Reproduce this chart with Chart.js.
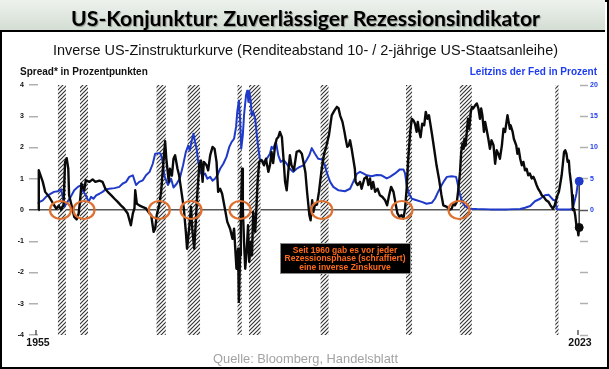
<!DOCTYPE html>
<html>
<head>
<meta charset="utf-8">
<script src="https://cdn.jsdelivr.net/npm/chart.js@4.4.0/dist/chart.umd.min.js"></script>
<style>
  html, body { margin: 0; padding: 0; width: 609px; height: 369px; overflow: hidden; background: #fff; }
  #frame { position: absolute; left: 0; top: 0; width: 605px; height: 365px; border: 2px solid #000; }
  #head { position: absolute; left: 0; top: 0; width: 605px; height: 30px;
          background: linear-gradient(#eef2ee, #d3ddd3); border-bottom: 2px solid #000; }
  #chart { position: absolute; left: 0; top: 0; }
  .txt { position: absolute; white-space: nowrap; line-height: 1; transform-origin: left top; }
  #title { top: 5px; font: bold 21px "Lato", "Open Sans", sans-serif; color: #000;
           text-shadow: 1px 1px 1px rgba(0,0,0,0.35); }
  #subtitle { top: 41px; font: 15px "Liberation Sans", Arial, sans-serif; color: #111; }
  #leftLabel { top: 66px; left: 20px; font: bold 10px "Liberation Sans", Arial, sans-serif; color: #111; }
  #rightLabel { top: 66px; font: bold 10px "Liberation Sans", Arial, sans-serif; color: #1d3cf0; }
  #source { top: 351px; font: 13px "Liberation Sans", Arial, sans-serif; color: #a3a3a3; }
</style>
</head>
<body>
<div id="frame"></div>
<div id="head"></div>
<canvas id="chart" width="609" height="369"></canvas>
<div class="txt" id="title" data-center="305" data-fit="469">US-Konjunktur: Zuverlässiger Rezessionsindikator</div>
<div class="txt" id="subtitle" data-center="305" data-fit="505">Inverse US-Zinstrukturkurve (Renditeabstand 10- / 2-jährige US-Staatsanleihe)</div>
<div class="txt" id="leftLabel">Spread* in Prozentpunkten</div>
<div class="txt" id="rightLabel" data-right="597">Leitzins der Fed in Prozent</div>
<div class="txt" id="source" data-center="305" data-fit="185">Quelle: Bloomberg, Handelsblatt</div>
<script>
// Renditeabstand 10J - 2J (linke Achse, Prozentpunkte)
var spreadYears = [1955.05,1955.1,1955.6,1955.9,1956.4,1957.0,1957.3,1957.6,1957.9,1958.2,1958.4,1958.6,1958.8,1958.9,1959.2,1959.55,1959.85,1960.1,1960.3,1960.45,1960.8,1961.0,1961.45,1961.85,1962.2,1962.7,1963.1,1963.45,1963.75,1964.2,1964.6,1965.0,1965.4,1965.8,1966.25,1966.65,1966.9,1967.1,1967.2,1967.4,1967.7,1968.1,1968.55,1969.0,1969.2,1969.5,1969.7,1969.9,1970.2,1970.45,1970.7,1970.95,1971.1,1971.4,1971.55,1971.8,1972.0,1972.2,1972.5,1972.7,1973.0,1973.3,1973.55,1973.7,1974.0,1974.2,1974.35,1974.6,1974.8,1975.0,1975.25,1975.45,1975.65,1975.8,1976.15,1976.35,1976.6,1976.9,1977.15,1977.4,1977.6,1977.85,1978.1,1978.45,1978.75,1979.1,1979.4,1979.6,1979.75,1979.9,1980.1,1980.2,1980.35,1980.45,1980.6,1980.7,1980.85,1981.0,1981.2,1981.35,1981.5,1981.7,1981.85,1982.0,1982.25,1982.4,1982.55,1982.75,1983.05,1983.35,1983.6,1983.9,1984.1,1984.3,1984.5,1984.75,1984.95,1985.15,1985.35,1985.6,1985.8,1986.0,1986.2,1986.4,1986.6,1986.8,1987.1,1987.45,1987.8,1988.1,1988.3,1988.55,1988.75,1989.05,1989.2,1989.4,1989.55,1989.75,1990.0,1990.25,1990.6,1990.9,1991.2,1991.5,1991.85,1992.2,1992.5,1992.7,1992.9,1993.2,1993.45,1993.6,1993.8,1994.0,1994.15,1994.35,1994.55,1994.75,1994.85,1995.1,1995.4,1995.6,1995.95,1996.25,1996.45,1996.65,1996.85,1997.05,1997.3,1997.6,1997.9,1998.2,1998.55,1998.8,1999.05,1999.3,1999.6,1999.9,2000.1,2000.35,2000.6,2000.85,2001.05,2001.25,2001.45,2001.7,2001.9,2002.1,2002.3,2002.5,2002.65,2002.8,2003.0,2003.2,2003.45,2003.65,2003.85,2004.05,2004.25,2004.45,2004.7,2005.0,2005.3,2005.6,2005.85,2006.3,2006.6,2006.9,2007.1,2007.3,2007.55,2007.75,2007.95,2008.1,2008.25,2008.4,2008.5,2008.65,2008.8,2008.95,2009.1,2009.3,2009.45,2009.6,2009.85,2010.05,2010.25,2010.45,2010.6,2010.75,2010.95,2011.1,2011.3,2011.5,2011.7,2011.9,2012.15,2012.35,2012.55,2012.75,2012.95,2013.2,2013.4,2013.6,2013.9,2014.05,2014.2,2014.3,2014.55,2014.7,2015.0,2015.15,2015.3,2015.5,2015.7,2015.9,2016.1,2016.3,2016.5,2016.7,2016.95,2017.15,2017.35,2017.55,2017.75,2018.0,2018.2,2018.45,2018.75,2019.05,2019.3,2019.6,2019.8,2019.95,2020.1,2020.35,2020.5,2020.7,2020.85,2021.0,2021.15,2021.3,2021.45,2021.6,2021.7,2021.9,2022.0,2022.1,2022.25,2022.4,2022.55,2022.7,2022.8,2022.9];
var spreadValues = [0,1.27,0.9,0.58,0.42,0.16,0.04,0.14,0.0,0.16,1.54,1.66,1.32,0.47,0.16,-0.22,-0.3,-0.12,0.36,0.84,0.63,0.95,0.9,0.98,0.9,0.94,0.9,0.68,0.58,0.47,0.36,0.26,0.15,0.05,-0.11,-0.49,-0.11,0.05,0.63,0.2,0.15,0.1,0.05,-0.11,-0.16,-0.7,-0.6,-0.16,0.15,0.58,1.43,2.2,1.64,0.9,1.32,1.1,1.64,1.75,1.32,1.11,0.58,0.04,-0.7,-1.24,-0.49,0.1,-0.6,-1.24,-0.38,0.58,1.48,1.58,0.9,1.54,1.43,1.27,1.75,2.02,1.96,1.54,0.58,0.68,0.52,0.04,-0.38,-0.6,-0.92,-0.6,-1.24,-1.88,-1.24,-2.94,-1.45,-0.17,1.32,0.04,-1.02,-1.88,-1.24,-0.49,-1.66,-1.02,-1.45,-0.06,-0.7,0.04,0.9,1.54,1.6,1.43,1.64,1.22,1.43,1.86,1.5,2.07,2.28,2.33,2.5,2.33,1.64,0.9,0.63,1.22,1.75,1.43,1.27,1.86,1.9,1.8,1.54,1.2,0.6,-0.17,-0.33,0.31,-0.06,0.17,0.17,0.58,1.32,1.8,2.07,2.39,3.03,3.19,3.3,3.26,3.03,2.82,2.5,2.28,2.02,2.07,2.23,1.96,1.64,1.32,0.9,0.8,0.9,0.68,1.01,1.06,0.8,1.01,0.68,0.9,0.58,0.68,0.47,0.42,0.31,0.15,0.47,0.74,0.58,0.15,-0.11,-0.22,-0.16,-0.27,0.04,0.68,1.64,2.5,2.92,2.87,2.76,2.5,2.82,2.55,2.33,2.76,2.71,3.14,2.92,3.03,2.71,2.39,1.96,1.43,1.01,0.5,0.15,0.1,0.0,0.04,0.2,0.15,0.26,0.68,1.22,1.86,2.12,1.96,2.28,2.07,2.5,2.92,2.6,3.14,3.3,3.25,3.35,3.41,3.25,2.92,3.25,3.03,2.5,2.82,2.55,2.28,1.96,2.23,2.07,1.48,1.91,1.8,1.64,2.07,2.6,2.5,3.03,2.82,2.6,2.71,2.5,2.28,2.07,1.8,1.96,1.64,1.43,1.54,1.27,1.32,1.11,1.17,1.01,1.06,0.95,0.8,0.68,0.58,0.47,0.42,0.31,0.26,0.15,0.04,0.13,0.26,0.42,0.58,0.8,1.11,1.48,1.86,1.91,1.8,1.54,1.58,1.22,0.8,0.47,0.0,0.04,-0.17,-0.49,-0.6,-0.81,-0.56];

// Leitzins der Fed (rechte Achse, Prozent)
var fedYears = [1955.0,1955.2,1955.6,1956.0,1956.4,1957.0,1957.5,1957.9,1958.1,1958.35,1958.7,1959.1,1959.55,1960.0,1960.3,1960.6,1961.0,1961.35,1961.65,1961.95,1962.3,1962.7,1963.1,1963.5,1963.95,1964.6,1965.2,1965.6,1966.05,1966.45,1966.9,1967.1,1967.3,1967.7,1968.15,1968.55,1969.0,1969.4,1969.7,1970.2,1970.4,1970.65,1970.85,1971.3,1971.7,1972.0,1972.4,1972.8,1973.2,1973.55,1973.85,1974.05,1974.3,1974.5,1974.7,1974.9,1975.1,1975.35,1975.65,1975.95,1976.25,1976.6,1976.9,1977.2,1977.5,1977.85,1978.25,1978.65,1979.0,1979.3,1979.6,1979.85,1980.0,1980.2,1980.35,1980.5,1980.7,1980.85,1981.1,1981.25,1981.4,1981.5,1981.7,1981.8,1982.0,1982.25,1982.45,1982.65,1982.85,1983.3,1983.7,1984.1,1984.3,1984.5,1984.85,1985.15,1985.45,1985.8,1986.2,1986.6,1987.0,1987.45,1987.85,1988.3,1988.7,1989.05,1989.35,1989.75,1990.15,1990.6,1991.0,1991.2,1991.65,1992.05,1992.7,1993.5,1994.15,1994.55,1995.0,1995.4,1995.8,1996.25,1996.85,1997.5,1998.1,1998.75,1999.15,1999.8,2000.4,2000.85,2001.05,2001.25,2001.55,2001.9,2002.5,2003.15,2003.75,2004.4,2004.8,2005.2,2005.65,2006.0,2006.3,2006.9,2007.45,2007.6,2007.85,2008.15,2008.55,2009.2,2010.05,2011.7,2013.9,2015.5,2016.1,2016.75,2017.35,2018.0,2018.6,2019.05,2019.3,2019.65,2019.9,2020.1,2020.7,2021.75,2022.1,2022.3,2022.55,2022.7,2022.9];
var fedValues = [1.0,1.3,1.55,2.1,2.45,2.9,3.0,3.3,2.1,0.6,1.3,2.1,3.15,3.7,3.9,3.1,2.35,1.3,2.1,1.8,2.35,2.6,2.9,3.3,3.4,3.5,3.7,4.2,4.5,5.3,5.55,4.75,4.0,4.5,4.75,5.55,6.1,7.4,9.0,9.1,9.0,7.7,5.5,4.0,5.0,3.6,4.2,5.1,7.15,9.3,10.3,9.5,11.2,12.2,10.9,9.8,7.7,6.1,5.5,5.85,5.0,5.3,4.7,5.0,5.55,6.6,7.4,8.5,10.1,10.9,11.4,13.3,15.7,17.5,14.6,9.8,12.0,15.2,18.35,19.1,17.3,19.1,17.3,15.2,15.7,14.6,12.0,9.8,8.0,7.7,8.2,9.0,10.1,9.8,10.9,8.75,7.7,8.0,7.4,6.6,6.1,6.6,6.9,7.15,8.0,8.8,9.9,9.0,8.2,8.1,7.15,6.1,4.5,3.7,3.15,3.0,3.4,4.5,5.8,6.1,5.85,5.55,5.4,5.6,5.55,5.05,5.3,5.85,6.5,6.5,5.85,4.0,2.6,1.8,1.55,1.3,1.0,1.15,1.8,2.9,4.0,4.75,5.3,5.4,5.3,4.5,2.9,1.55,0.65,0.2,0.15,0.1,0.1,0.15,0.35,0.65,1.4,1.8,2.35,2.45,2.1,1.6,1.55,0.1,0.08,0.08,0.2,1.3,2.6,4.0,4.6];

// Rezessionsphasen (schraffiert)
var recessionStart = [1957.5, 1960.27, 1969.87, 1973.77, 1980.03, 1981.47, 1990.45, 2001.17, 2007.92, 2019.9];
var recessionEnd   = [1958.5, 1961.27, 1971.03, 1975.33, 1980.56, 1982.92, 1991.45, 2001.93, 2009.43, 2020.3];

// markierte Inversionen vor Rezessionen
var circleYears = [1957.82, 1960.77, 1970.22, 1974.2, 1980.35, 1990.6, 2000.67, 2007.82];

var xTickYears = [1955, 2023];
var noteLines = ['Seit 1960 gab es vor jeder', 'Rezessionsphase (schraffiert)', 'eine inverse Zinskurve'];

var spreadData = spreadYears.map(function (y, i) { return { x: y, y: spreadValues[i] }; });
var fedData = fedYears.map(function (y, i) { return { x: y, y: fedValues[i] }; });

function lastOnly(r) {
    return function (c) { return c.dataIndex === c.dataset.data.length - 1 ? r : 0; };
}

function hatchPattern(ctx) {
    var c = document.createElement('canvas');
    c.width = 4; c.height = 4;
    var p = c.getContext('2d');
    p.fillStyle = '#fff';
    p.fillRect(0, 0, 4, 4);
    p.strokeStyle = '#333';
    p.lineWidth = 1.15;
    p.beginPath();
    p.moveTo(-1, 5); p.lineTo(5, -1);
    p.moveTo(-1, 1); p.lineTo(1, -1);
    p.moveTo(3, 5); p.lineTo(5, 3);
    p.stroke();
    return ctx.createPattern(c, 'repeat');
}

var backdrop = {
    id: 'backdrop',
    beforeDatasetsDraw: function (chart) {
        var ctx = chart.ctx, a = chart.chartArea, xs = chart.scales.x;
        ctx.save();
        ctx.fillStyle = hatchPattern(ctx);
        for (var i = 0; i < recessionStart.length; i++) {
            var x1 = xs.getPixelForValue(recessionStart[i]);
            var x2 = xs.getPixelForValue(recessionEnd[i]);
            ctx.fillRect(x1, a.top, x2 - x1, a.bottom - a.top);
        }
        // small year ticks at the bottom
        ctx.strokeStyle = '#333';
        ctx.lineWidth = 1.2;
        xTickYears.forEach(function (yr) {
            var x = xs.getPixelForValue(yr) - 2;
            ctx.beginPath();
            ctx.moveTo(x, a.bottom - 5);
            ctx.lineTo(x, a.bottom);
            ctx.stroke();
        });
        // link between the two end values
        var sy = chart.scales.y, fy = chart.scales.y2;
        var lx = xs.getPixelForValue(spreadYears[spreadYears.length - 1]);
        ctx.strokeStyle = '#444';
        ctx.lineWidth = 1.6;
        ctx.beginPath();
        ctx.moveTo(lx, fy.getPixelForValue(fedValues[fedValues.length - 1]));
        ctx.lineTo(lx, sy.getPixelForValue(spreadValues[spreadValues.length - 1]));
        ctx.stroke();
        ctx.restore();
    },
    afterDatasetsDraw: function (chart) {
        var ctx = chart.ctx, xs = chart.scales.x, ys = chart.scales.y;
        ctx.save();
        ctx.strokeStyle = '#e0702f';
        ctx.lineWidth = 2.2;
        var y0 = ys.getPixelForValue(0);
        circleYears.forEach(function (yr) {
            ctx.beginPath();
            ctx.ellipse(xs.getPixelForValue(yr), y0, 10.5, 9, 0, 0, Math.PI * 2);
            ctx.stroke();
        });
        // note box
        ctx.fillStyle = '#000';
        ctx.fillRect(280, 243, 130, 30);
        ctx.strokeStyle = '#888';
        ctx.lineWidth = 1;
        ctx.strokeRect(280.5, 243.5, 130, 30);
        ctx.fillStyle = '#ff6a1a';
        ctx.font = 'bold 8.5px "Liberation Sans", Arial, sans-serif';
        ctx.textAlign = 'center';
        ctx.textBaseline = 'middle';
        noteLines.forEach(function (t, i) {
            ctx.fillText(t, 345, 250.5 + i * 8.5);
        });
        ctx.restore();
    }
};

var tickFont = { family: '"Liberation Sans", Arial, sans-serif', weight: 'bold', size: 7 };

new Chart(document.getElementById('chart'), {
    type: 'line',
    data: {
        datasets: [
            {
                label: 'Spread', data: spreadData, yAxisID: 'y', order: 0, clip: false,
                borderColor: '#0a0a0a', borderWidth: 2.4, borderJoinStyle: 'round',
                pointRadius: lastOnly(4), pointBackgroundColor: '#0a0a0a',
                pointBorderColor: '#0a0a0a', pointBorderWidth: 1,
                tension: 0
            },
            {
                label: 'Leitzins', data: fedData, yAxisID: 'y2', order: 1, clip: false,
                borderColor: '#1f3ac8', borderWidth: 2, borderJoinStyle: 'round',
                pointRadius: lastOnly(4), pointBackgroundColor: '#1f3ac8',
                pointBorderColor: '#1f3ac8', pointBorderWidth: 1,
                tension: 0
            }
        ]
    },
    options: {
        responsive: false,
        animation: false,
        devicePixelRatio: 1,
        layout: { padding: { top: 85, bottom: 10, left: 0, right: 0 } },
        plugins: { legend: { display: false }, tooltip: { enabled: false } },
        scales: {
            x: {
                type: 'linear', min: 1955, max: 2023,
                afterBuildTicks: function (s) { s.ticks = xTickYears.map(function (v) { return { value: v }; }); },
                afterFit: function (s) { s.height = 24; },
                ticks: {
                    callback: function (v) { return String(v); },
                    font: { family: '"Liberation Sans", Arial, sans-serif', weight: 'bold', size: 10.5 },
                    color: '#111', maxRotation: 0, padding: 2, autoSkip: false
                },
                grid: { display: false, drawTicks: false },
                border: { display: false }
            },
            y: {
                position: 'left', min: -4, max: 4,
                afterFit: function (s) { s.width = 38; },
                ticks: { stepSize: 1, font: tickFont, color: '#111', padding: 5 },
                grid: {
                    color: function (c) { return c.tick && c.tick.value === 0 ? '#555' : 'rgba(0,0,0,0)'; },
                    lineWidth: 1.5,
                    tickColor: function (c) { return c.tick && c.tick.value === 0 ? '#555' : '#b0b0b0'; },
                    tickLength: 9, tickWidth: 1.5
                },
                border: { display: false }
            },
            y2: {
                position: 'right', min: -20, max: 20,
                afterFit: function (s) { s.width = 29; },
                ticks: {
                    stepSize: 5, font: tickFont, color: '#1d3cf0', padding: 2,
                    callback: function (v) { return v >= 0 ? String(v) : ''; }
                },
                grid: {
                    drawOnChartArea: false,
                    tickColor: function (c) { return c.tick && c.tick.value === 0 ? '#555' : '#b0b0b0'; },
                    tickLength: 8, tickWidth: 1.5
                },
                border: { display: false }
            }
        }
    },
    plugins: [backdrop]
});

// squeeze the header texts to the widths they have in the picture
document.querySelectorAll('.txt').forEach(function (el) {
    var w = el.getBoundingClientRect().width;
    var target = el.dataset.fit ? +el.dataset.fit : w;
    if (el.dataset.fit) el.style.transform = 'scaleX(' + (target / w) + ')';
    if (el.dataset.center) el.style.left = (+el.dataset.center - target / 2) + 'px';
    if (el.dataset.right) el.style.left = (+el.dataset.right - target) + 'px';
});
</script>
</body>
</html>
